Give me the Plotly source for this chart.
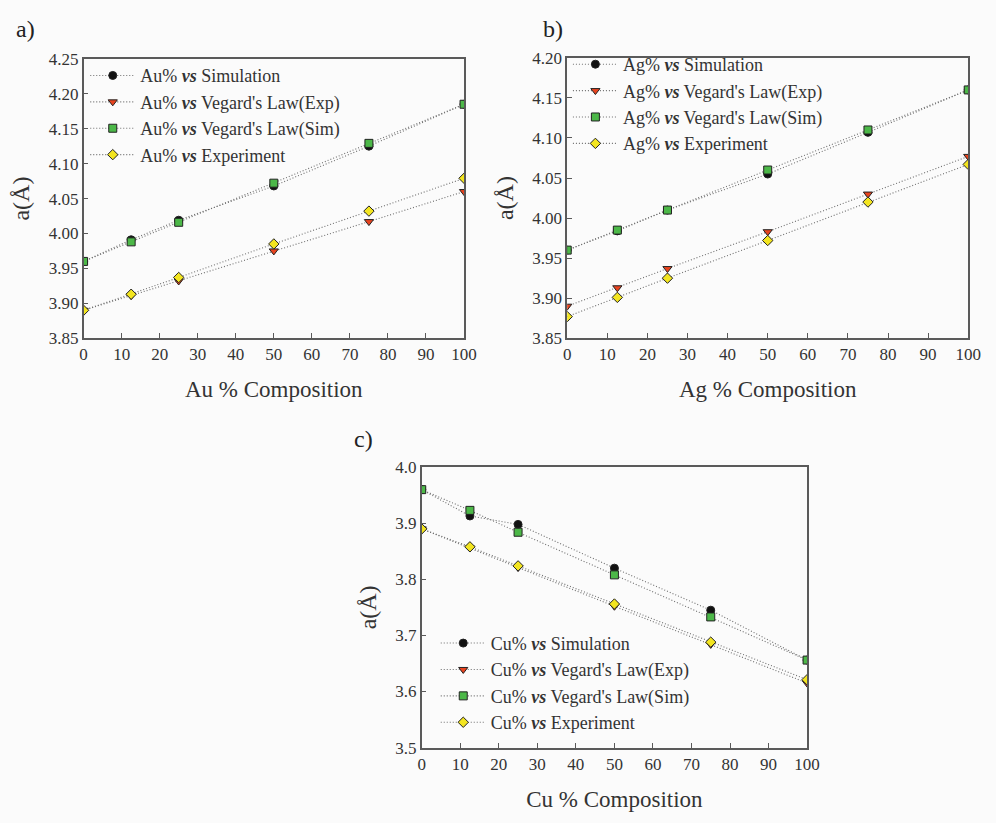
import plotly.graph_objects as go

# composition (%) of the alloying element
composition = [0, 12.5, 25, 50, 75, 100]
x_ticks = list(range(0, 101, 10))

# a) Au in Pd – lattice constant a (Å)
au_sim = [3.960, 3.991, 4.019, 4.068, 4.125, 4.185]
au_veg_exp = [3.890, 3.911, 3.932, 3.975, 4.017, 4.060]
au_veg_sim = [3.960, 3.988, 4.016, 4.072, 4.129, 4.185]
au_exp = [3.890, 3.913, 3.937, 3.985, 4.032, 4.079]

# b) Ag in Pd
ag_sim = [3.960, 3.984, 4.010, 4.055, 4.107, 4.160]
ag_veg_exp = [3.890, 3.913, 3.937, 3.983, 4.030, 4.077]
ag_veg_sim = [3.960, 3.985, 4.010, 4.060, 4.110, 4.160]
ag_exp = [3.877, 3.901, 3.925, 3.972, 4.020, 4.067]

# c) Cu in Pd
cu_sim = [3.960, 3.913, 3.898, 3.820, 3.745, 3.656]
cu_veg_exp = [3.890, 3.856, 3.821, 3.752, 3.684, 3.615]
cu_veg_sim = [3.960, 3.923, 3.884, 3.808, 3.733, 3.656]
cu_exp = [3.890, 3.858, 3.824, 3.756, 3.688, 3.621]

series_names = ["Simulation", "Vegard's Law(Exp)", "Vegard's Law(Sim)", "Experiment"]
symbols = ["circle", "triangle-down", "square", "diamond"]
fills = ["#111111", "#e8431e", "#4cb848", "#f3e520"]

FONT = "Liberation Serif"
AXIS_COLOR = "#5a5a5a"
LINE_COLOR = "#6e6e6e"

panels = [
    dict(el="Au", data=[au_sim, au_veg_exp, au_veg_sim, au_exp],
         xd=[0.0813, 0.4699], yd=[0.5905, 0.9380],
         yr=[3.85, 4.25], dt=0.05, fmt=".2f", label="a)", lx=0.010, ly=0.975,
         leg=dict(x=0.083, y=0.940)),
    dict(el="Ag", data=[ag_sim, ag_veg_exp, ag_veg_sim, ag_exp],
         xd=[0.5753, 0.9849], yd=[0.5905, 0.9392],
         yr=[3.85, 4.20], dt=0.05, fmt=".2f", label="b)", lx=0.549, ly=0.975,
         leg=dict(x=0.576, y=0.954)),
    dict(el="Cu", data=[cu_sim, cu_veg_exp, cu_veg_sim, cu_exp],
         xd=[0.4267, 0.8203], yd=[0.0814, 0.4301],
         yr=[3.5, 4.0], dt=0.1, fmt=".1f", label="c)", lx=0.355, ly=0.465,
         leg=dict(x=0.441, y=0.234)),
]

fig = go.Figure()
layout = dict(
    width=996, height=823,
    margin=dict(l=0, r=0, t=0, b=0),
    paper_bgcolor="#fbfbfb", plot_bgcolor="#fbfbfb",
    font=dict(family=FONT, color="#222222"),
    showlegend=True,
)
annotations = []

for i, p in enumerate(panels):
    n = "" if i == 0 else str(i + 1)
    legend_id = "legend" + n
    for k, (vals, name) in enumerate(zip(p["data"], series_names)):
        fig.add_trace(go.Scatter(
            x=composition, y=vals, mode="lines+markers",
            name=f"{p['el']}% <b><i>vs</i></b> {name}",
            line=dict(color=LINE_COLOR, width=1.1, dash="1px,2px"),
            marker=dict(symbol=symbols[k], size=8, color=fills[k],
                        line=dict(color="#222222", width=1)),
            xaxis="x" + n, yaxis="y" + n, legend=legend_id,
        ))
    common = dict(showline=True, linecolor=AXIS_COLOR, linewidth=1.5, mirror=True,
                  ticks="inside", ticklen=5, tickwidth=1.2, tickcolor=AXIS_COLOR,
                  showgrid=False, zeroline=False,
                  tickfont=dict(family=FONT, size=17, color="#333333"))
    layout["xaxis" + n] = dict(
        common, domain=p["xd"], range=[0, 100], tickvals=x_ticks,
        anchor="y" + n,
        title=dict(text=f"{p['el']} % Composition", standoff=18,
                   font=dict(family=FONT, size=23, color="#333333")),
    )
    layout["yaxis" + n] = dict(
        common, domain=p["yd"], range=p["yr"], dtick=p["dt"], tick0=p["yr"][0],
        tickformat=p["fmt"], anchor="x" + n,
        title=dict(text="a(Å)", standoff=12,
                   font=dict(family=FONT, size=24, color="#333333")),
    )
    layout[legend_id] = dict(
        x=p["leg"]["x"], y=p["leg"]["y"], xanchor="left", yanchor="top",
        bgcolor="rgba(0,0,0,0)", borderwidth=0, itemwidth=45,
        font=dict(family=FONT, size=18, color="#333333"),
        tracegroupgap=0,
    )
    annotations.append(dict(
        text=p["label"], x=p["lx"], y=p["ly"], xref="paper", yref="paper",
        xanchor="left", yanchor="middle", showarrow=False,
        font=dict(family=FONT, size=24, color="#222222"),
    ))

layout["annotations"] = annotations
fig.update_layout(**layout)
fig.write_html("out.html")
